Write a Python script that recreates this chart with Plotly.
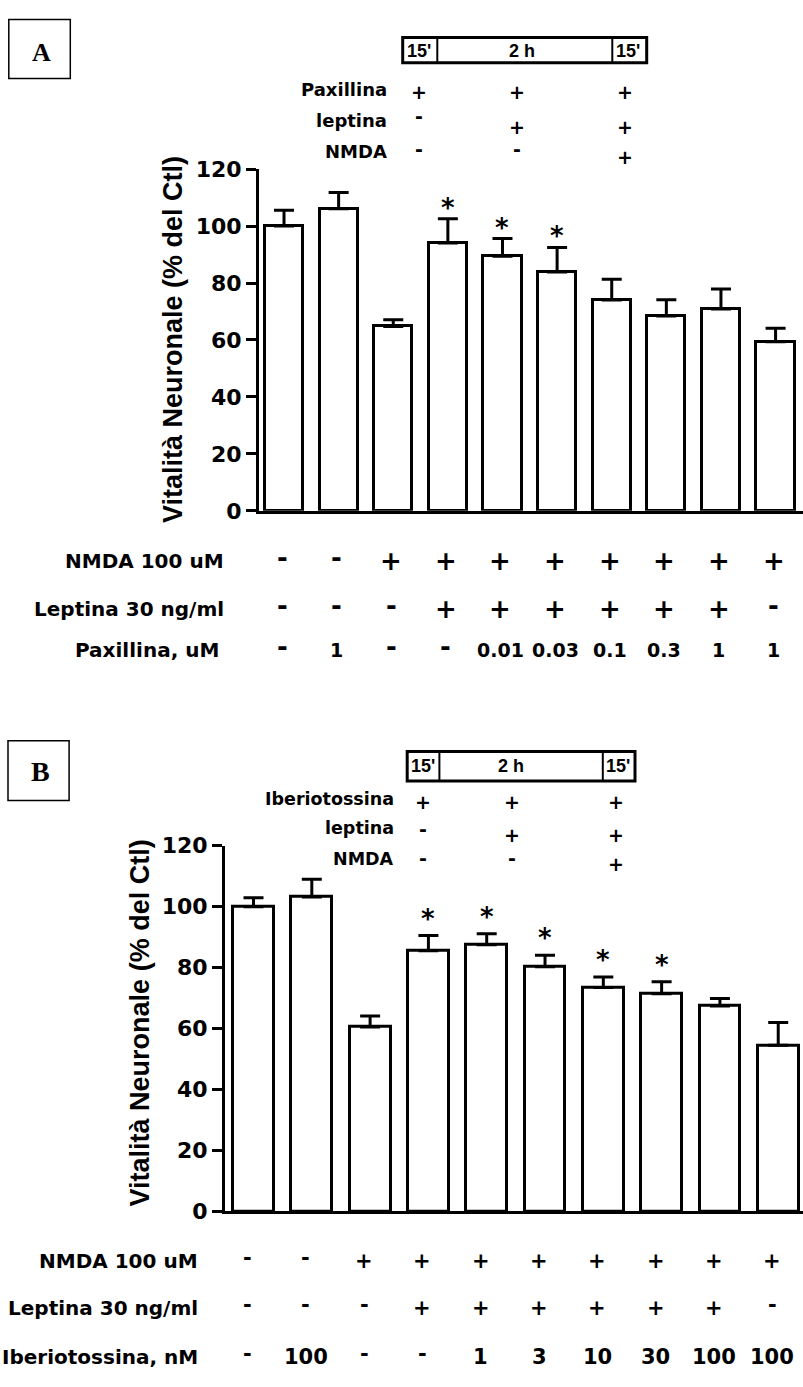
import plotly.graph_objects as go

W, H = 803, 1387

# ---------------- data ----------------
groups = list(range(10))

a_mean = [100.0, 106.1, 64.7, 94.1, 89.4, 83.9, 74.0, 68.4, 70.9, 59.4]
a_sem = [5.6, 5.7, 2.4, 8.5, 6.2, 8.6, 7.3, 5.7, 7.0, 4.7]
a_star = [False, False, False, True, True, True, False, False, False, False]
a_nmda = ["-", "-", "+", "+", "+", "+", "+", "+", "+", "+"]
a_lep = ["-", "-", "-", "+", "+", "+", "+", "+", "+", "-"]
a_pax = ["-", "1", "-", "-", "0.01", "0.03", "0.1", "0.3", "1", "1"]
a_row_labels = ["NMDA 100 uM", "Leptina 30 ng/ml", "Paxillina, uM"]

b_mean = [100.0, 103.2, 60.5, 85.5, 87.5, 80.3, 73.5, 71.4, 67.4, 54.5]
b_sem = [2.9, 5.8, 3.6, 5.0, 3.6, 3.8, 3.4, 4.0, 2.5, 7.5]
b_star = [False, False, False, True, True, True, True, True, False, False]
b_nmda = ["-", "-", "+", "+", "+", "+", "+", "+", "+", "+"]
b_lep = ["-", "-", "-", "+", "+", "+", "+", "+", "+", "-"]
b_ibtx = ["-", "100", "-", "-", "1", "3", "10", "30", "100", "100"]
b_row_labels = ["NMDA 100 uM", "Leptina 30 ng/ml", "Iberiotossina, nM"]

y_ticks = [0, 20, 40, 60, 80, 100, 120]
y_title = "Vitalità Neuronale (% del Ctl)"

time_cells = ["15'", "2 h", "15'"]
a_time_labels = ["Paxillina", "leptina", "NMDA"]
b_time_labels = ["Iberiotossina", "leptina", "NMDA"]
time_marks = [["+", "+", "+"], ["-", "+", "+"], ["-", "-", "+"]]


def px(x):
    return x / W


def py(y):
    return 1 - y / H


BOLD_DV = dict(family="DejaVu Sans", color="black", weight="bold")
BOLD_AR = dict(family="Liberation Sans, Arial, sans-serif", color="black", weight="bold")
SERIF = dict(family="Liberation Serif, Times New Roman, serif", color="black", weight="bold")

fig = go.Figure()


def add_bars(mean, sem, xa, ya):
    fig.add_trace(go.Bar(
        x=groups, y=mean, width=0.70,
        marker=dict(color="white", line=dict(color="black", width=3)),
        error_y=dict(type="data", symmetric=False, array=sem,
                     arrayminus=[0] * len(sem), thickness=3, width=10,
                     color="black"),
        xaxis=xa, yaxis=ya, showlegend=False, hoverinfo="skip"))


add_bars(a_mean, a_sem, "x", "y")
add_bars(b_mean, b_sem, "x2", "y2")

yaxis_common = dict(range=[0, 120], tickvals=y_ticks, ticks="outside", ticklen=10,
                    tickwidth=3, tickcolor="black", showline=True, linewidth=3,
                    linecolor="black", showgrid=False, zeroline=False,
                    tickfont=dict(size=22, **BOLD_DV), fixedrange=True)
xaxis_common = dict(showline=True, linewidth=3, linecolor="black", showgrid=False,
                    zeroline=False, showticklabels=False, ticks="", fixedrange=True)

fig.update_layout(
    width=W, height=H, margin=dict(l=0, r=0, t=0, b=0),
    paper_bgcolor="white", plot_bgcolor="white", bargap=0,
    xaxis=dict(domain=[px(259), 1], range=[-0.458, 9.502], anchor="y", **xaxis_common),
    yaxis=dict(domain=[py(508), py(160)], anchor="x", **yaxis_common),
    xaxis2=dict(domain=[px(225), 1], range=[-0.489, 9.425], anchor="y2", **xaxis_common),
    yaxis2=dict(domain=[py(1221.5), py(849)], anchor="x2", **yaxis_common),
)

ann = []
shapes = []

# y-axis titles
ann.append(dict(text=y_title, textangle=-90, x=px(173), y=py(334), xref="paper", yref="paper",
                showarrow=False, xanchor="center", yanchor="middle", font=dict(size=27, **BOLD_AR)))
ann.append(dict(text=y_title, textangle=-90, x=px(140), y=py(1030), xref="paper", yref="paper",
                showarrow=False, xanchor="center", yanchor="middle", font=dict(size=27, **BOLD_AR)))

# stars
for mean, sem, star, xr, yr, shift in [(a_mean, a_sem, a_star, "x", "y", 11),
                                        (b_mean, b_sem, b_star, "x2", "y2", 17)]:
    for i in groups:
        if star[i]:
            ann.append(dict(text="*", x=i, y=mean[i] + sem[i], xref=xr, yref=yr,
                            showarrow=False, yanchor="middle", yshift=shift,
                            font=dict(size=26, **BOLD_DV)))


# bottom tables
def table(rows, labels, label_x, row_y, xr, mark_size, val_size, label_size, xshift):
    for r, (vals, lab, yy) in enumerate(zip(rows, labels, row_y)):
        ann.append(dict(text=lab, x=px(label_x[r]), y=py(yy), xref="paper", yref="paper",
                        showarrow=False, xanchor="right", yanchor="middle",
                        font=dict(size=label_size, **BOLD_DV)))
        for i, v in enumerate(vals):
            is_mark = v in ("+", "-")
            ann.append(dict(text=v, x=i, y=py(yy), xref=xr, yref="paper",
                            showarrow=False, xanchor="center", yanchor="middle",
                            xshift=xshift, yshift=(3 if v == "-" else 0),
                            font=dict(size=(mark_size if is_mark else val_size), **BOLD_DV)))


table([a_nmda, a_lep, a_pax], a_row_labels, [226, 226, 221], [559, 608, 650], "x", 26, 19, 20, -2)
table([b_nmda, b_lep, b_ibtx], b_row_labels, [200, 200, 200], [1272, 1320, 1370], "x2", 21, 21, 20, -6)


# timelines
def timeline(box, dividers, cell_x, cell_y, labels, label_right, label_y, mark_x, mark_y, lab_size):
    x0, y0, x1, y1 = box
    shapes.append(dict(type="rect", xref="paper", yref="paper", x0=px(x0), x1=px(x1),
                       y0=py(y1), y1=py(y0), line=dict(color="black", width=3)))
    for d in dividers:
        shapes.append(dict(type="line", xref="paper", yref="paper", x0=px(d), x1=px(d),
                           y0=py(y1), y1=py(y0), line=dict(color="black", width=2)))
    for t, cx in zip(time_cells, cell_x):
        ann.append(dict(text=t, x=px(cx), y=py(cell_y), xref="paper", yref="paper",
                        showarrow=False, xanchor="center", yanchor="middle",
                        font=dict(size=18, **BOLD_AR)))
    for r, lab in enumerate(labels):
        ann.append(dict(text=lab, x=px(label_right), y=py(label_y[r]), xref="paper", yref="paper",
                        showarrow=False, xanchor="right", yanchor="middle",
                        font=dict(size=lab_size, **BOLD_DV)))
        for c, m in enumerate(time_marks[r]):
            ann.append(dict(text=m, x=px(mark_x[c]), y=py(mark_y[r][c]), xref="paper", yref="paper",
                            showarrow=False, xanchor="center", yanchor="middle",
                            font=dict(size=19, **BOLD_DV)))


timeline((402.7, 26, 646.7, 51.7), [437.3, 612.3], [419, 522, 628], 40,
         a_time_labels, 389, [79, 110, 142], [419, 517, 625],
         [[81, 81, 81], [106, 117, 117], [140, 140, 148]], 18)
timeline((407.2, 753, 635, 783), [439.4, 602.8], [423, 511, 618], 768,
         b_time_labels, 396, [801, 831, 863], [423, 512, 616],
         [[804, 804, 804], [832, 838, 838], [862, 862, 868]], 17.5)

# panel letters
for (x0, y0, x1, y1), letter, (lx, ly), size in [((8.8, 7.6, 70.3, 67.8), "A", (41, 41), 26),
                                                  ((8, 742, 69.1, 803), "B", (40, 773), 28)]:
    shapes.append(dict(type="rect", xref="paper", yref="paper", x0=px(x0), x1=px(x1),
                       y0=py(y1), y1=py(y0), line=dict(color="black", width=1.5)))
    ann.append(dict(text=letter, x=px(lx), y=py(ly), xref="paper", yref="paper",
                    showarrow=False, xanchor="center", yanchor="middle",
                    font=dict(size=size, **SERIF)))

fig.update_layout(annotations=ann, shapes=shapes)
fig.write_html("out.html", config={"displayModeBar": False},
               post_script="document.body.style.margin='0';document.body.style.overflow='hidden';")
